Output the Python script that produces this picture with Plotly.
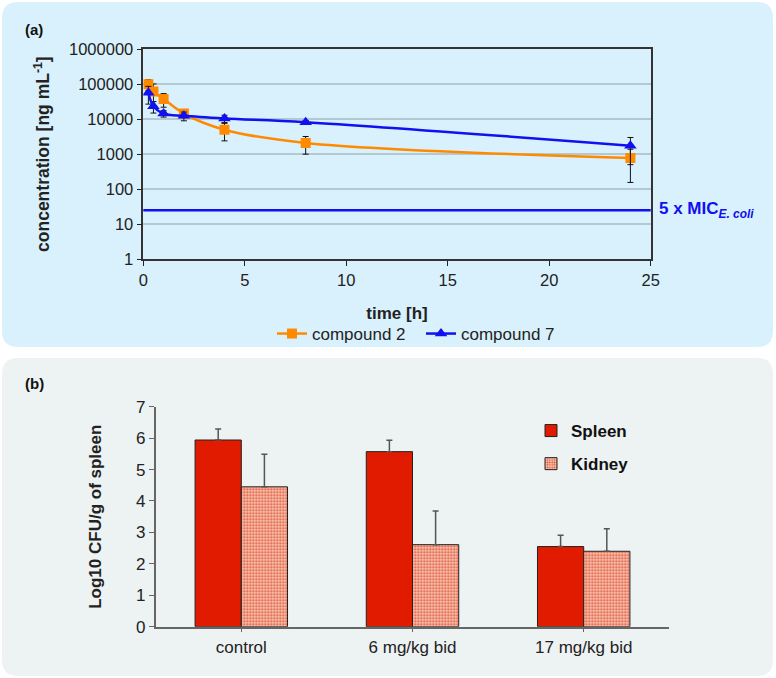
import math
import plotly.graph_objects as go

# ---------------- data: panel (a) ----------------
time_h = [0.25, 0.5, 1, 2, 4, 8, 24]
comp2 = [100000, 62000, 38000, 14500, 5000, 2100, 770]
comp2_sd = [35000, 40000, 16000, 3500, 2600, 1100, 615]
comp7 = [57000, 23500, 14500, 12500, 10500, 8200, 1750]
comp7_sd = [30000, 8500, 3000, 3500, 2500, 1000, 1250]
mic_5x = 25
x_ticks = [0, 5, 10, 15, 20, 25]
y_ticks = [1, 10, 100, 1000, 10000, 100000, 1000000]
y_ticktext = [str(v) for v in y_ticks]

# ---------------- data: panel (b) ----------------
groups = ["control", "6 mg/kg bid", "17 mg/kg bid"]
spleen = [5.94, 5.57, 2.55]
spleen_err = [0.35, 0.36, 0.36]
kidney = [4.45, 2.61, 2.40]
kidney_err = [1.04, 1.07, 0.72]
b_ticks = [0, 1, 2, 3, 4, 5, 6, 7]

W, H = 776, 678
FONT = "Liberation Sans, Arial, sans-serif"
ORANGE = "#FF8A00"
BLUE = "#1010F0"
RED = "#E11B00"


def px(x):
    return x / W


def py(y):
    return 1 - y / H


def rrect(x0, y0, x1, y1, r):
    pts = [
        ("M", [(x0 + r, y0)]),
        ("L", [(x1 - r, y0)]),
        ("Q", [(x1, y0), (x1, y0 + r)]),
        ("L", [(x1, y1 - r)]),
        ("Q", [(x1, y1), (x1 - r, y1)]),
        ("L", [(x0 + r, y1)]),
        ("Q", [(x0, y1), (x0, y1 - r)]),
        ("L", [(x0, y0 + r)]),
        ("Q", [(x0, y0), (x0 + r, y0)]),
    ]
    s = ""
    for cmd, ps in pts:
        s += cmd + " " + " ".join(f"{px(a):.5f},{py(b):.5f}" for a, b in ps) + " "
    return s + "Z"


fig = go.Figure()

fig.add_trace(go.Scatter(
    x=time_h, y=comp2, name="compound 2", mode="lines+markers",
    line=dict(color=ORANGE, width=2.5, shape="spline", smoothing=1.0),
    marker=dict(symbol="square", size=10, color=ORANGE),
    error_y=dict(type="data", array=comp2_sd, color="#111", thickness=1, width=3),
    xaxis="x", yaxis="y", legend="legend"))
fig.add_trace(go.Scatter(
    x=time_h, y=comp7, name="compound 7", mode="lines+markers",
    line=dict(color=BLUE, width=2.5, shape="spline", smoothing=1.0),
    marker=dict(symbol="triangle-up", size=11, color=BLUE),
    error_y=dict(type="data", array=comp7_sd, color="#111", thickness=1, width=3),
    xaxis="x", yaxis="y", legend="legend"))

fig.add_trace(go.Bar(
    x=groups, y=spleen, name="Spleen", legendgroup="s",
    marker=dict(color=RED, line=dict(color="#222", width=1)),
    error_y=dict(type="data", symmetric=False, array=spleen_err,
                 arrayminus=[0] * len(spleen_err), color="#555", thickness=1.5, width=3),
    xaxis="x2", yaxis="y2", legend="legend2"))
fig.add_trace(go.Bar(
    x=groups, y=kidney, name="Kidney", legendgroup="k",
    marker=dict(color="#F6BBA8", line=dict(color="#222", width=1),
                pattern=dict(shape=".", fgcolor="#E04A28", bgcolor="#F8C6B5",
                             size=3, solidity=0.4)),
    error_y=dict(type="data", symmetric=False, array=kidney_err,
                 arrayminus=[0] * len(kidney_err), color="#555", thickness=1.5, width=3),
    xaxis="x2", yaxis="y2", legend="legend2"))

shapes = [
    dict(type="path", xref="paper", yref="paper", path=rrect(2, 2, 773, 347, 16),
         fillcolor="#D9F1FC", line=dict(width=0), layer="below"),
    dict(type="path", xref="paper", yref="paper", path=rrect(2, 358, 773, 676, 16),
         fillcolor="#EDF2F3", line=dict(width=0), layer="below"),
    dict(type="line", xref="x domain", yref="y", x0=0, x1=1, y0=mic_5x, y1=mic_5x,
         line=dict(color=BLUE, width=2.5)),
]

annotations = [
    dict(text="<b>(a)</b>", xref="paper", yref="paper", x=px(23), y=py(30),
         xanchor="left", yanchor="middle", showarrow=False, font=dict(size=15, color="#111")),
    dict(text="<b>(b)</b>", xref="paper", yref="paper", x=px(23), y=py(383),
         xanchor="left", yanchor="middle", showarrow=False, font=dict(size=15, color="#111")),
    dict(text="<b>5 x MIC<sub><i>E. coli</i></sub></b>", xref="paper", yref="y",
         x=px(657), y=math.log10(mic_5x), xanchor="left", yanchor="middle",
         showarrow=False, font=dict(size=17, color=BLUE)),
]

fig.update_layout(
    template="none",
    width=W, height=H,
    margin=dict(l=0, r=0, t=0, b=0, pad=0, autoexpand=False),
    paper_bgcolor="white", plot_bgcolor="rgba(0,0,0,0)",
    font=dict(family=FONT, size=17, color="#222"),
    shapes=shapes, annotations=annotations,
    barmode="group", bargap=0.46, bargroupgap=0,
    xaxis=dict(domain=[px(143.3), px(650.7)], anchor="y", range=[0, 25], automargin=False,
               tickvals=x_ticks, ticks="outside", ticklen=5, tickcolor="#222",
               tickfont=dict(size=16.5),
               showline=True, linecolor="#333", linewidth=1.5, mirror=True,
               showgrid=False, zeroline=False,
               title=dict(text="<b>time [h]</b>", standoff=20, font=dict(size=17))),
    yaxis=dict(domain=[py(259), py(49.3)], anchor="x", type="log", range=[0, 6],
               automargin=False,
               tickvals=y_ticks, ticktext=y_ticktext, ticks="outside", ticklen=5,
               tickfont=dict(size=16.5),
               tickcolor="#222", showline=True, linecolor="#333", linewidth=1.5,
               mirror=True, showgrid=True, gridcolor="#B3C8D0", gridwidth=1.5,
               zeroline=False,
               title=dict(text="<b>concentration [ng mL<sup>-1</sup>]</b>", standoff=15,
                          font=dict(size=17.5))),
    xaxis2=dict(domain=[px(155.7), px(669.3)], anchor="y2", type="category",
                automargin=False,
                range=[-0.5, 2.5], ticks="outside", ticklen=4, tickcolor="#666",
                tickfont=dict(size=17),
                showline=True, linecolor="#666", linewidth=1.5, showgrid=False),
    yaxis2=dict(domain=[py(626.7), py(406.7)], anchor="x2", range=[0, 7],
                automargin=False,
                tickvals=b_ticks, ticks="outside", ticklen=5, tickcolor="#666",
                tickfont=dict(size=17),
                showline=True, linecolor="#666", linewidth=1.5, showgrid=False,
                zeroline=False,
                title=dict(text="<b>Log10 CFU/g of spleen</b>", standoff=30,
                           font=dict(size=17))),
    legend=dict(orientation="h", x=px(272), y=py(334), xanchor="left",
                yanchor="middle", bgcolor="rgba(0,0,0,0)", font=dict(size=17),
                entrywidth=104, entrywidthmode="pixels"),
    legend2=dict(orientation="v", x=px(531), y=py(413), xanchor="left", yanchor="top",
                 bgcolor="rgba(0,0,0,0)", tracegroupgap=8,
                 font=dict(size=17, color="#111", family=FONT, weight="bold"),
                 itemwidth=30),
)

fig.write_html(
    "out.html",
    config={"displayModeBar": False},
    post_script="document.body.style.margin='0';"
                "document.documentElement.style.overflow='hidden';"
                "document.body.style.overflow='hidden';",
)
